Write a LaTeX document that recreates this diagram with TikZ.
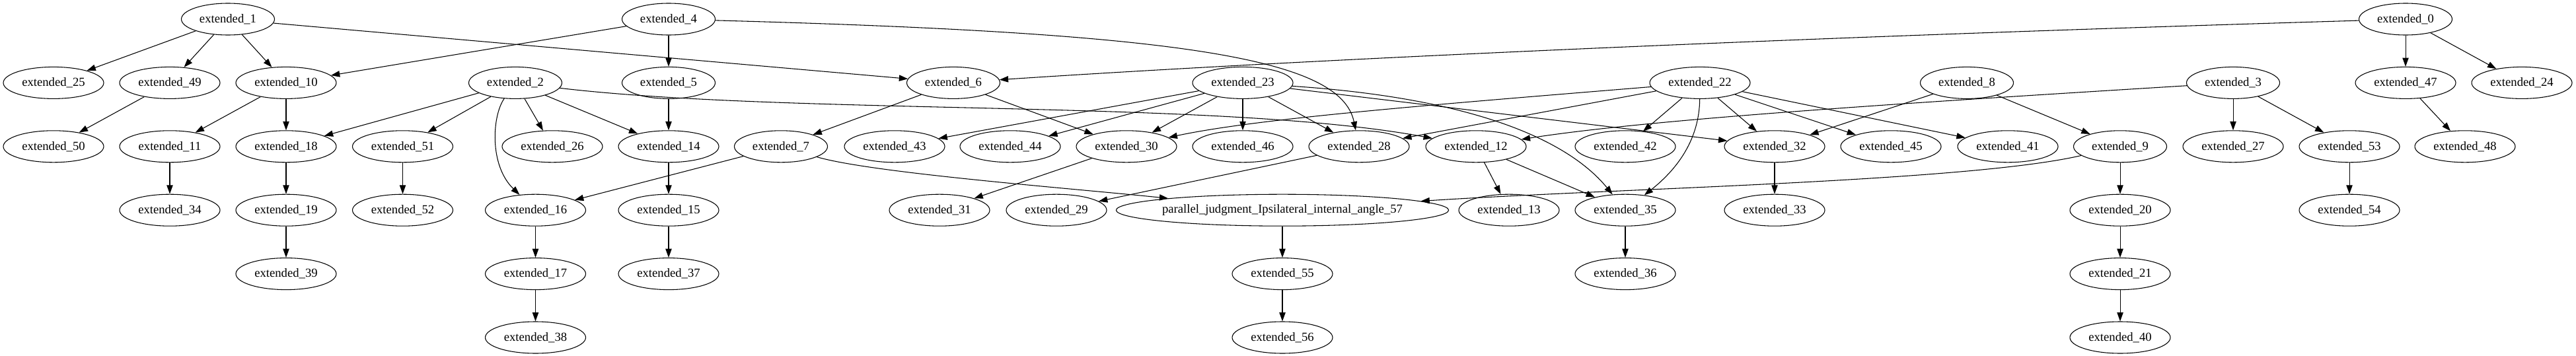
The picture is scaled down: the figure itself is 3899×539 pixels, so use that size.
\documentclass[tikz,border=0pt]{standalone}
\usepackage{fontspec}
\setmainfont{Liberation Serif}
\usetikzlibrary{shapes.geometric,arrows.meta}
\tikzset{
  nd/.style={ellipse, draw, line width=0.8pt, minimum width=114pt, minimum height=36pt, inner sep=0pt, font=\fontsize{14pt}{16pt}\selectfont},
  nds/.style={nd, minimum width=105.75pt},
  ndl/.style={nd, minimum width=362pt, inner xsep=-3pt},
  arr/.style={-{Triangle[length=10pt,width=7pt]}, line width=0.8pt}
}
\begin{document}
\begin{tikzpicture}[x=0.75pt,y=0.75pt]
\useasboundingbox (0,0) rectangle (3899,-539);
% row 0
\node[nds] (e1) at (345,-29) {extended\_1};
\node[nds] (e4) at (1012,-29) {extended\_4};
\node[nds] (e0) at (3641,-29) {extended\_0};
% row 1
\node[nd] (e25) at (81,-125.4) {extended\_25};
\node[nd] (e49) at (257,-125.4) {extended\_49};
\node[nd] (e10) at (433,-125.4) {extended\_10};
\node[nds] (e2) at (780,-125.4) {extended\_2};
\node[nds] (e5) at (1012,-125.4) {extended\_5};
\node[nds] (e6) at (1443,-125.4) {extended\_6};
\node[nd] (e23) at (1881,-125.4) {extended\_23};
\node[nd] (e22) at (2573,-125.4) {extended\_22};
\node[nds] (e8) at (2977,-125.4) {extended\_8};
\node[nds] (e3) at (3380,-125.4) {extended\_3};
\node[nd] (e47) at (3641,-125.4) {extended\_47};
\node[nd] (e24) at (3817,-125.4) {extended\_24};
% row 2
\node[nd] (e50) at (81,-221.8) {extended\_50};
\node[nd] (e11) at (257,-221.8) {extended\_11};
\node[nd] (e18) at (433,-221.8) {extended\_18};
\node[nd] (e51) at (609.5,-221.8) {extended\_51};
\node[nd] (e26) at (836,-221.8) {extended\_26};
\node[nd] (e14) at (1012,-221.8) {extended\_14};
\node[nds] (e7) at (1182,-221.8) {extended\_7};
\node[nd] (e43) at (1354,-221.8) {extended\_43};
\node[nd] (e44) at (1529,-221.8) {extended\_44};
\node[nd] (e30) at (1705,-221.8) {extended\_30};
\node[nd] (e46) at (1881,-221.8) {extended\_46};
\node[nd] (e28) at (2057,-221.8) {extended\_28};
\node[nd] (e12) at (2234,-221.8) {extended\_12};
\node[nd] (e42) at (2460,-221.8) {extended\_42};
\node[nd] (e32) at (2686,-221.8) {extended\_32};
\node[nd] (e45) at (2862,-221.8) {extended\_45};
\node[nd] (e41) at (3039,-221.8) {extended\_41};
\node[nds] (e9) at (3209,-221.8) {extended\_9};
\node[nd] (e27) at (3380,-221.8) {extended\_27};
\node[nd] (e53) at (3556,-221.8) {extended\_53};
\node[nd] (e48) at (3731,-221.8) {extended\_48};
% row 3
\node[nd] (e34) at (257,-318.2) {extended\_34};
\node[nd] (e19) at (433,-318.2) {extended\_19};
\node[nd] (e52) at (609.5,-318.2) {extended\_52};
\node[nd] (e16) at (810.5,-318.2) {extended\_16};
\node[nd] (e15) at (1012,-318.2) {extended\_15};
\node[nd] (e31) at (1422,-318.2) {extended\_31};
\node[nd] (e29) at (1599,-318.2) {extended\_29};
\node[ndl] (p57) at (1941,-318.2) {parallel\_judgment\_Ipsilateral\_internal\_angle\_57};
\node[nd] (e13) at (2284,-318.2) {extended\_13};
\node[nd] (e35) at (2460,-318.2) {extended\_35};
\node[nd] (e33) at (2686,-318.2) {extended\_33};
\node[nd] (e20) at (3209,-318.2) {extended\_20};
\node[nd] (e54) at (3556,-318.2) {extended\_54};
% row 4
\node[nd] (e39) at (433,-414.6) {extended\_39};
\node[nd] (e17) at (810.5,-414.6) {extended\_17};
\node[nd] (e37) at (1012,-414.6) {extended\_37};
\node[nd] (e55) at (1941,-414.6) {extended\_55};
\node[nd] (e36) at (2460,-414.6) {extended\_36};
\node[nd] (e21) at (3209,-414.6) {extended\_21};
% row 5
\node[nd] (e38) at (810.5,-511) {extended\_38};
\node[nd] (e56) at (1941,-511) {extended\_56};
\node[nd] (e40) at (3209,-511) {extended\_40};
% edges
\draw[arr] (e1) -- (e25);
\draw[arr] (e1) -- (e49);
\draw[arr] (e1) -- (e10);
\draw[arr] (e1) -- (e6);
\draw[arr] (e4) -- (e10);
\draw[arr] (e4) -- (e5);
\draw[arr] (e4) .. controls (1800,-50) and (2030,-90) .. (e28);
\draw[arr] (e0) .. controls (2600,-60) and (1900,-95) .. (e6);
\draw[arr] (e0) -- (e47);
\draw[arr] (e0) -- (e24);
\draw[arr] (e49) -- (e50);
\draw[arr] (e10) -- (e11);
\draw[arr] (e10) -- (e18);
\draw[arr] (e11) -- (e34);
\draw[arr] (e18) -- (e19);
\draw[arr] (e19) -- (e39);
\draw[arr] (e51) -- (e52);
\draw[arr] (e2) -- (e18);
\draw[arr] (e2) -- (e51);
\draw[arr] (e2) .. controls (745,-175) and (740,-250) .. (e16);
\draw[arr] (e2) -- (e26);
\draw[arr] (e2) -- (e14);
\draw[arr] (e2) .. controls (1200,-175) and (1850,-150) .. (e12);
\draw[arr] (e5) -- (e14);
\draw[arr] (e14) -- (e15);
\draw[arr] (e15) -- (e37);
\draw[arr] (e16) -- (e17);
\draw[arr] (e17) -- (e38);
\draw[arr] (e6) -- (e7);
\draw[arr] (e6) -- (e30);
\draw[arr] (e7) -- (e16);
\draw[arr] (e7) .. controls (1320,-262) and (1620,-285) .. (p57);
\draw[arr] (e23) -- (e43);
\draw[arr] (e23) -- (e44);
\draw[arr] (e23) -- (e30);
\draw[arr] (e23) -- (e46);
\draw[arr] (e23) -- (e28);
\draw[arr] (e23) -- (e32);
\draw[arr] (e23) .. controls (2250,-150) and (2380,-220) .. (e35);
\draw[arr] (e30) -- (e31);
\draw[arr] (e28) -- (e29);
\draw[arr] (e22) .. controls (2150,-160) and (1900,-180) .. (e30);
\draw[arr] (e22) -- (e28);
\draw[arr] (e22) -- (e42);
\draw[arr] (e22) -- (e32);
\draw[arr] (e22) -- (e45);
\draw[arr] (e22) -- (e41);
\draw[arr] (e22) .. controls (2572,-210) and (2540,-255) .. (e35);
\draw[arr] (e8) -- (e32);
\draw[arr] (e8) -- (e9);
\draw[arr] (e3) .. controls (2900,-155) and (2500,-180) .. (e12);
\draw[arr] (e3) -- (e27);
\draw[arr] (e3) -- (e53);
\draw[arr] (e12) -- (e13);
\draw[arr] (e12) -- (e35);
\draw[arr] (e9) -- (e20);
\draw[arr] (e9) .. controls (2980,-275) and (2450,-285) .. (p57);
\draw[arr] (e20) -- (e21);
\draw[arr] (e21) -- (e40);
\draw[arr] (e32) -- (e33);
\draw[arr] (e35) -- (e36);
\draw[arr] (p57) -- (e55);
\draw[arr] (e55) -- (e56);
\draw[arr] (e53) -- (e54);
\draw[arr] (e47) -- (e48);
\end{tikzpicture}
\end{document}
